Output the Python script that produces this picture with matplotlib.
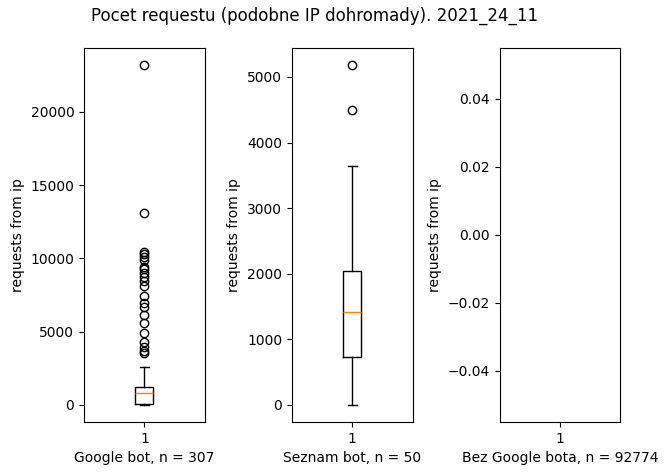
import numpy as np
import matplotlib.pyplot as plt

# box statistics
labels = ["Google bot, n = 307", "Seznam bot, n = 50", "Bez Google bota, n = 92774"]
medians = [820, 1413, np.nan]
q1s = [50, 732, np.nan]
q3s = [1210, 2043, np.nan]
whis_lo = [0, 0, np.nan]
whis_hi = [2610, 3643, np.nan]
google_fliers = [23200, 13100, 10440, 10280, 10120, 9900, 9440, 9260, 8990, 8720,
                 8420, 8080, 7400, 6940, 6710, 6140, 5570, 4890, 4320, 3980, 3640, 3530]
seznam_fliers = [5183, 4497]
fliers = [google_fliers, seznam_fliers, []]

fig, axes = plt.subplots(1, 3, figsize=(6.67, 4.75), dpi=100)
fig.subplots_adjust(left=0.126, right=0.93, top=0.899, bottom=0.112, wspace=0.72)

for i, ax in enumerate(axes):
    st = dict(med=medians[i], q1=q1s[i], q3=q3s[i], whislo=whis_lo[i],
              whishi=whis_hi[i], fliers=fliers[i], label="1")
    if i < 2:
        ax.bxp([st])
    else:
        ax.set_xlim(0.5, 1.5)
        ax.set_xticks([1])
        ax.set_xticklabels(["1"])
        ax.set_ylim(-0.055, 0.055)
    ax.set_xlabel(labels[i])
    ax.set_ylabel("requests from ip")

fig.suptitle("Pocet requestu (podobne IP dohromady). 2021_24_11", x=0.4715, y=0.985, fontsize=12)
fig.savefig("out.png", dpi=100)
